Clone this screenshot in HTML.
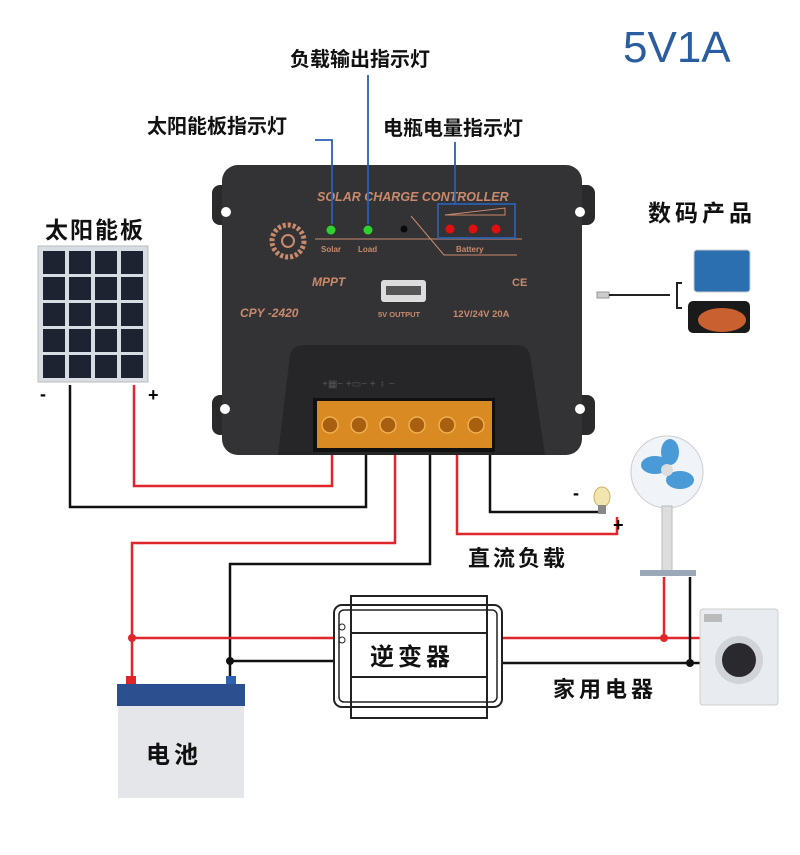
<!DOCTYPE html>
<html><head><meta charset="utf-8"><style>
html,body{margin:0;padding:0;background:#fff;}
svg{display:block}
.cn{font-family:"Liberation Sans","Noto Sans CJK SC",sans-serif;font-weight:bold;}
.pl{font-family:"Liberation Sans",sans-serif;font-weight:bold;font-style:italic;fill:#c98a6c;}
</style></head><body>
<svg width="800" height="855" viewBox="0 0 800 855" xmlns="http://www.w3.org/2000/svg">
<rect width="800" height="855" fill="#fff"/>
<!-- top labels -->
<text x="623" y="62" font-family="Liberation Sans,sans-serif" font-size="44" fill="#2a5d9f">5V1A</text>
<text x="290" y="66" class="cn" font-size="20" font-weight="normal" fill="#111">负载输出指示灯</text>
<text x="147" y="133" class="cn" font-size="20" font-weight="normal" fill="#111">太阳能板指示灯</text>
<text x="383" y="135" class="cn" font-size="20" font-weight="normal" fill="#111">电瓶电量指示灯</text>
<text x="45" y="238" class="cn" font-size="23" fill="#111" letter-spacing="2">太阳能板</text>
<text x="648" y="221" class="cn" font-size="23" fill="#111" letter-spacing="4">数码产品</text>

<!-- solar panel -->
<rect x="38" y="246" width="110" height="136" fill="#d8dde3" stroke="#bbb"/>
<g fill="#1d2330">
<rect x="43" y="251" width="22" height="23"/><rect x="69" y="251" width="22" height="23"/><rect x="95" y="251" width="22" height="23"/><rect x="121" y="251" width="22" height="23"/>
<rect x="43" y="277" width="22" height="23"/><rect x="69" y="277" width="22" height="23"/><rect x="95" y="277" width="22" height="23"/><rect x="121" y="277" width="22" height="23"/>
<rect x="43" y="303" width="22" height="23"/><rect x="69" y="303" width="22" height="23"/><rect x="95" y="303" width="22" height="23"/><rect x="121" y="303" width="22" height="23"/>
<rect x="43" y="329" width="22" height="23"/><rect x="69" y="329" width="22" height="23"/><rect x="95" y="329" width="22" height="23"/><rect x="121" y="329" width="22" height="23"/>
<rect x="43" y="355" width="22" height="23"/><rect x="69" y="355" width="22" height="23"/><rect x="95" y="355" width="22" height="23"/><rect x="121" y="355" width="22" height="23"/>
</g>
<text x="40" y="400" font-family="Liberation Sans" font-weight="bold" font-size="18">-</text>
<text x="148" y="401" font-family="Liberation Sans" font-weight="bold" font-size="18">+</text>

<!-- wires -->
<g fill="none" stroke-width="2.5">
<polyline points="332,452 332,486 134,486 134,385" stroke="#e0262b"/>
<polyline points="366,452 366,507 70,507 70,385" stroke="#111"/>
<polyline points="395,452 395,543 132,543 132,683" stroke="#e0262b"/>
<polyline points="430,452 430,564 230,564 230,683" stroke="#111"/>
<polyline points="457,452 457,534 617,534 617,517" stroke="#e0262b"/>
<polyline points="490,452 490,512 598,512" stroke="#111"/>
<line x1="132" y1="638" x2="334" y2="638" stroke="#e0262b"/>
<line x1="502" y1="638" x2="709" y2="638" stroke="#e0262b"/>
<line x1="664" y1="638" x2="664" y2="577" stroke="#e0262b"/>
<line x1="230" y1="661" x2="334" y2="661" stroke="#111"/>
<line x1="502" y1="663" x2="709" y2="663" stroke="#111"/>
<line x1="690" y1="663" x2="690" y2="577" stroke="#111"/>
</g>
<circle cx="132" cy="638" r="4" fill="#e0262b"/>
<circle cx="664" cy="638" r="4" fill="#e0262b"/>
<circle cx="230" cy="661" r="4" fill="#111"/>
<circle cx="690" cy="663" r="4" fill="#111"/>

<!-- controller -->
<rect x="212" y="185" width="30" height="40" rx="8" fill="#2a2a2a"/>
<rect x="565" y="185" width="30" height="40" rx="8" fill="#2a2a2a"/>
<rect x="212" y="395" width="30" height="40" rx="8" fill="#2a2a2a"/>
<rect x="565" y="395" width="30" height="40" rx="8" fill="#2a2a2a"/>
<rect x="222" y="165" width="360" height="290" rx="16" fill="#333335"/>
<circle cx="226" cy="212" r="5" fill="#fff"/><circle cx="580" cy="212" r="5" fill="#fff"/>
<circle cx="225" cy="409" r="5" fill="#fff"/><circle cx="580" cy="409" r="5" fill="#fff"/>
<path d="M278,455 L290,355 Q292,345 305,345 L515,345 Q528,345 530,355 L545,455 Z" fill="#262628"/>
<text x="317" y="201" class="pl" font-size="12.5">SOLAR CHARGE CONTROLLER</text>
<line x1="315" y1="239" x2="522" y2="239" stroke="#c98a6c" stroke-width="1"/>
<polyline points="411,216 444,255 517,255" fill="none" stroke="#c98a6c" stroke-width="1"/>
<polygon points="445,215 505,208 505,215" fill="none" stroke="#c98a6c" stroke-width="1"/>
<circle cx="288" cy="241" r="16" fill="none" stroke="#c98a6c" stroke-width="5" stroke-dasharray="3 2"/>
<circle cx="288" cy="241" r="6" fill="none" stroke="#c98a6c" stroke-width="2"/>
<circle cx="331" cy="230" r="4.5" fill="#2fd12f"/>
<circle cx="368" cy="230" r="4.5" fill="#2fd12f"/>
<circle cx="404" cy="229" r="3.5" fill="#0a0a0a"/>
<circle cx="450" cy="229" r="4.5" fill="#e01010"/>
<circle cx="473" cy="229" r="4.5" fill="#e01010"/>
<circle cx="496" cy="229" r="4.5" fill="#e01010"/>
<text x="321" y="252" font-family="Liberation Sans" font-weight="bold" font-size="8" fill="#c98a6c">Solar</text>
<text x="358" y="252" font-family="Liberation Sans" font-weight="bold" font-size="8" fill="#c98a6c">Load</text>
<text x="456" y="252" font-family="Liberation Sans" font-weight="bold" font-size="8" fill="#c98a6c">Battery</text>
<text x="312" y="286" class="pl" font-size="12">MPPT</text>
<text x="240" y="317" class="pl" font-size="12" font-style="italic">CPY -2420</text>
<rect x="381" y="280" width="45" height="22" rx="3" fill="#ddd"/>
<rect x="386" y="286" width="35" height="9" fill="#555"/>
<text x="378" y="317" font-family="Liberation Sans" font-weight="bold" font-size="7.5" fill="#c98a6c">5V OUTPUT</text>
<text x="512" y="286" font-family="Liberation Sans" font-weight="bold" font-size="11" fill="#c98a6c">CE</text>
<text x="453" y="317" font-family="Liberation Sans" font-weight="bold" font-size="9.5" fill="#c98a6c">12V/24V  20A</text>
<text x="322" y="387" font-family="Liberation Sans" font-size="10" fill="#555">+▦−   +▭−   + ♁ −</text>
<rect x="313" y="398" width="182" height="54" fill="#111"/>
<rect x="317" y="401" width="175" height="47" fill="#d98a22"/>
<g fill="#a86010" stroke="#f0b050" stroke-width="1.5">
<circle cx="330" cy="425" r="8"/><circle cx="359" cy="425" r="8"/><circle cx="388" cy="425" r="8"/><circle cx="417" cy="425" r="8"/><circle cx="447" cy="425" r="8"/><circle cx="476" cy="425" r="8"/>
</g>

<!-- blue leaders -->
<g fill="none" stroke="#2a5fb0" stroke-width="1.8">
<polyline points="315,140 332,140 332,224"/>
<line x1="368" y1="75" x2="368" y2="224"/>
<line x1="455" y1="142" x2="455" y2="204"/>
<rect x="438" y="204" width="77" height="34"/>
</g>

<!-- digital products -->
<rect x="597" y="292" width="12" height="6" fill="#ccc" stroke="#999"/>
<line x1="609" y1="295" x2="670" y2="295" stroke="#222" stroke-width="2"/>
<polyline points="682,283 677,283 677,308 682,308" fill="none" stroke="#222" stroke-width="2"/>
<rect x="694" y="250" width="56" height="42" rx="3" fill="#2b6fb0" stroke="#ccc"/>
<rect x="688" y="301" width="62" height="32" rx="5" fill="#1a1a1a"/>
<ellipse cx="722" cy="320" rx="24" ry="12" fill="#c86030"/>

<!-- bulb & DC load -->
<ellipse cx="602" cy="497" rx="8" ry="10" fill="#f2e6b0" stroke="#ccb060"/>
<rect x="598" y="505" width="8" height="9" fill="#888"/>
<text x="573" y="499" font-family="Liberation Sans" font-weight="bold" font-size="18">-</text>
<text x="613" y="531" font-family="Liberation Sans" font-weight="bold" font-size="18">+</text>
<text x="468" y="566" class="cn" font-size="22" fill="#111" letter-spacing="3">直流负载</text>

<!-- fan -->
<circle cx="667" cy="472" r="36" fill="#f0f4f8" stroke="#ccc"/>
<ellipse cx="655" cy="465" rx="14" ry="9" fill="#4a9ad8"/>
<ellipse cx="680" cy="480" rx="14" ry="9" fill="#4a9ad8"/>
<ellipse cx="670" cy="452" rx="9" ry="13" fill="#4a9ad8"/>
<circle cx="667" cy="470" r="6" fill="#ddd"/>
<rect x="662" y="506" width="10" height="66" fill="#ddd" stroke="#bbb"/>
<rect x="640" y="570" width="56" height="6" fill="#9aa8b8"/>

<!-- inverter -->
<rect x="334" y="605" width="168" height="102" rx="8" fill="#fff" stroke="#222" stroke-width="2"/>
<rect x="339" y="610" width="158" height="92" rx="5" fill="none" stroke="#222" stroke-width="1.5"/>
<rect x="351" y="596" width="136" height="122" fill="none" stroke="#222" stroke-width="2"/>
<rect x="351" y="633" width="136" height="44" fill="#fff" stroke="#222" stroke-width="2"/>
<circle cx="342" cy="627" r="3" fill="none" stroke="#222"/>
<circle cx="342" cy="640" r="3" fill="none" stroke="#222"/>
<text x="370" y="665" class="cn" font-size="24" fill="#111" letter-spacing="4">逆变器</text>
<text x="553" y="697" class="cn" font-size="22" fill="#111" letter-spacing="4">家用电器</text>

<!-- washing machine -->
<rect x="700" y="609" width="78" height="96" rx="3" fill="#e8ecf0" stroke="#ccc"/>
<circle cx="739" cy="660" r="24" fill="#d0d4d8"/>
<circle cx="739" cy="660" r="17" fill="#2a2a2e"/>
<rect x="704" y="614" width="18" height="8" fill="#bbb"/>

<!-- battery -->
<rect x="126" y="676" width="10" height="10" fill="#e0262b"/>
<rect x="226" y="676" width="10" height="10" fill="#3060b0"/>
<rect x="117" y="684" width="128" height="22" fill="#2c4f8f"/>
<rect x="118" y="706" width="126" height="92" fill="#e4e6ea"/>
<text x="146" y="763" class="cn" font-size="24" fill="#111" letter-spacing="4">电池</text>
</svg>
</body></html>
